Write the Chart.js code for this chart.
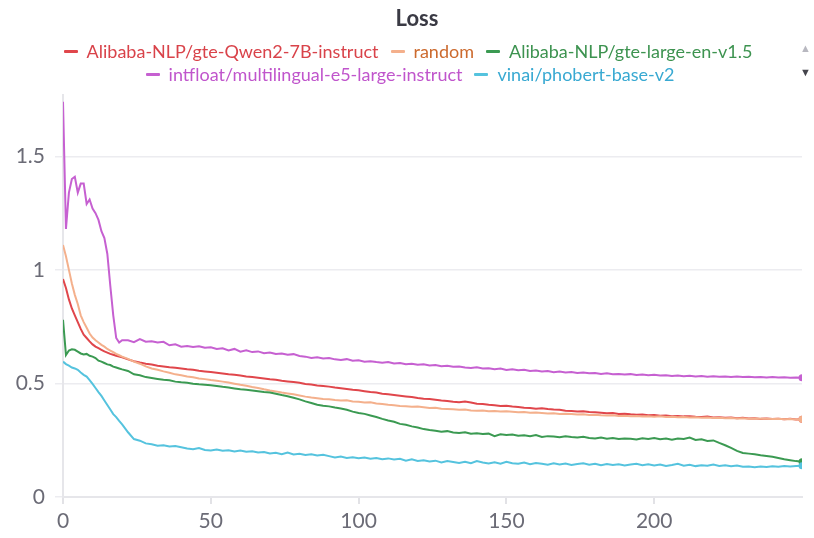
<!DOCTYPE html>
<html>
<head>
<meta charset="utf-8">
<script src="https://cdn.jsdelivr.net/npm/chart.js@4/dist/chart.umd.min.js"></script>
<style>
  html, body { margin: 0; padding: 0; background: #ffffff; }
  body { width: 814px; height: 538px; position: relative; overflow: hidden; font-family: Lato, "Noto Sans", sans-serif; }
  #chart { position: absolute; left: 0; top: 0; }
  #title { position: absolute; left: 0; width: 834px; top: 4px; text-align: center; font-size: 22px; font-weight: 700; color: #3a3a44; }
  .row { position: absolute; display: flex; justify-content: center; white-space: nowrap; font-size: 18px; }
  .item { display: flex; align-items: center; margin: 0 6px; }
  .dash { width: 14px; height: 3px; border-radius: 1px; margin-right: 9px; }
  #row1 { left: 0; width: 816px; top: 40px; }
  #row2 { left: 0; width: 820px; top: 63px; }
  .arrow { position: absolute; left: 800px; font-size: 11px; }
</style>
</head>
<body>
<canvas id="chart" width="814" height="538"></canvas>
<div id="title">Loss</div>
<div id="row1" class="row"></div>
<div id="row2" class="row"></div>
<div class="arrow" style="top:41px;color:#b8b8c0;">▲</div>
<div class="arrow" style="top:65px;color:#44444c;">▼</div>
<script>
// training steps (x values)
const steps = [0,1,2,3,4,5,6,7,8,9,10,11,12,13,14,15,16,17,18,19,20,
  22,24,26,28,30,32,34,36,38,40,42,44,46,48,50,52,54,56,58,60,62,64,66,68,70,72,74,76,78,80,
  82,84,86,88,90,92,94,96,98,100,102,104,106,108,110,112,114,116,118,120,122,124,126,128,130,
  132,134,136,138,140,142,144,146,148,150,152,154,156,158,160,162,164,166,168,170,172,174,176,178,180,
  182,184,186,188,190,192,194,196,198,200,202,204,206,208,210,212,214,216,218,220,222,224,226,228,230,
  232,234,236,238,240,242,244,246,248,250];

const seriesNames = [
  "Alibaba-NLP/gte-Qwen2-7B-instruct",
  "random",
  "Alibaba-NLP/gte-large-en-v1.5",
  "intfloat/multilingual-e5-large-instruct",
  "vinai/phobert-base-v2"
];

const qwenLoss = [0.96,0.92,0.87,0.83,0.80,0.77,0.74,0.715,0.70,0.685,0.672,0.662,0.655,0.648,0.641,0.636,0.630,0.626,0.622,0.618,0.615,
  0.606,0.598,0.592,0.587,0.583,0.578,0.575,0.571,0.569,0.566,0.562,0.560,0.556,0.553,0.550,0.547,0.544,0.540,0.538,0.535,
  0.531,0.528,0.525,0.522,0.518,0.516,0.512,0.509,0.506,0.503,0.498,0.495,0.491,0.489,0.486,0.482,0.479,0.476,0.472,0.470,
  0.466,0.462,0.460,0.455,0.452,0.449,0.446,0.443,0.440,0.436,0.433,0.431,0.428,0.425,0.423,0.419,0.417,0.420,0.416,0.411,
  0.409,0.406,0.404,0.401,0.402,0.398,0.396,0.393,0.392,0.389,0.391,0.387,0.385,0.384,0.380,0.379,0.377,0.378,0.374,0.373,
  0.371,0.369,0.370,0.366,0.367,0.364,0.362,0.363,0.360,0.361,0.358,0.359,0.356,0.357,0.355,0.356,0.353,0.352,0.354,0.350,
  0.351,0.349,0.350,0.347,0.349,0.346,0.347,0.344,0.346,0.343,0.345,0.342,0.344,0.341,0.342];

const randomLoss = [1.11,1.06,1.00,0.94,0.89,0.85,0.80,0.77,0.745,0.72,0.702,0.690,0.680,0.670,0.662,0.652,0.645,0.638,0.630,0.624,0.618,
  0.608,0.596,0.587,0.575,0.566,0.560,0.553,0.547,0.540,0.536,0.531,0.527,0.522,0.519,0.515,0.512,0.508,0.504,0.499,0.494,
  0.490,0.484,0.480,0.474,0.469,0.465,0.460,0.456,0.452,0.447,0.442,0.438,0.435,0.432,0.430,0.427,0.425,0.426,0.421,0.419,
  0.416,0.417,0.412,0.409,0.406,0.404,0.401,0.400,0.397,0.398,0.395,0.392,0.393,0.389,0.388,0.386,0.384,0.385,0.381,0.380,
  0.381,0.378,0.379,0.376,0.377,0.375,0.373,0.374,0.371,0.372,0.370,0.368,0.369,0.366,0.367,0.365,0.363,0.364,0.361,0.362,
  0.360,0.359,0.360,0.357,0.358,0.356,0.357,0.354,0.356,0.353,0.355,0.352,0.353,0.351,0.352,0.350,0.351,0.349,0.350,0.348,
  0.349,0.347,0.348,0.346,0.347,0.345,0.346,0.344,0.345,0.343,0.344,0.342,0.343,0.341,0.342];

const gteLargeLoss = [0.78,0.625,0.645,0.650,0.648,0.640,0.632,0.628,0.630,0.622,0.618,0.612,0.600,0.596,0.590,0.584,0.581,0.574,0.570,0.566,0.562,
  0.555,0.540,0.536,0.528,0.524,0.520,0.516,0.514,0.508,0.505,0.503,0.499,0.496,0.494,0.492,0.489,0.485,0.482,0.478,0.474,
  0.472,0.469,0.466,0.462,0.460,0.455,0.449,0.444,0.437,0.430,0.421,0.414,0.406,0.402,0.399,0.394,0.390,0.384,0.376,0.370,
  0.366,0.359,0.352,0.344,0.337,0.331,0.322,0.318,0.311,0.306,0.299,0.295,0.292,0.287,0.290,0.284,0.282,0.285,0.279,0.281,
  0.277,0.279,0.268,0.276,0.273,0.275,0.270,0.272,0.268,0.273,0.264,0.268,0.266,0.263,0.267,0.264,0.262,0.265,0.260,0.258,
  0.262,0.257,0.260,0.255,0.258,0.256,0.253,0.259,0.255,0.260,0.254,0.257,0.252,0.258,0.255,0.262,0.251,0.254,0.247,0.249,
  0.238,0.228,0.216,0.203,0.194,0.191,0.188,0.184,0.181,0.177,0.172,0.166,0.162,0.158,0.155];

const e5Loss = [1.74,1.18,1.34,1.40,1.41,1.34,1.38,1.38,1.29,1.31,1.27,1.25,1.22,1.17,1.14,1.07,0.93,0.80,0.70,0.68,0.69,
  0.690,0.682,0.695,0.684,0.686,0.680,0.683,0.668,0.672,0.662,0.665,0.660,0.664,0.657,0.659,0.652,0.655,0.645,0.652,0.640,
  0.646,0.638,0.641,0.633,0.636,0.630,0.632,0.626,0.629,0.621,0.618,0.612,0.615,0.610,0.612,0.606,0.603,0.607,0.600,0.602,
  0.596,0.598,0.594,0.591,0.594,0.588,0.590,0.585,0.587,0.582,0.584,0.579,0.581,0.576,0.578,0.574,0.575,0.570,0.568,0.571,
  0.566,0.567,0.563,0.566,0.559,0.562,0.558,0.560,0.555,0.557,0.553,0.555,0.549,0.552,0.548,0.550,0.546,0.548,0.545,0.546,
  0.542,0.545,0.541,0.542,0.539,0.541,0.537,0.539,0.536,0.538,0.535,0.536,0.533,0.535,0.532,0.534,0.531,0.533,0.530,0.532,
  0.529,0.531,0.528,0.530,0.528,0.529,0.527,0.528,0.526,0.528,0.526,0.527,0.525,0.526,0.525];

const phobertLoss = [0.596,0.585,0.578,0.570,0.566,0.560,0.548,0.538,0.530,0.515,0.498,0.480,0.462,0.445,0.425,0.405,0.385,0.365,0.352,0.335,0.320,
  0.285,0.255,0.248,0.236,0.232,0.226,0.228,0.222,0.224,0.219,0.214,0.210,0.216,0.207,0.205,0.209,0.204,0.206,0.200,0.205,
  0.199,0.201,0.196,0.198,0.192,0.195,0.188,0.196,0.187,0.190,0.185,0.188,0.183,0.186,0.180,0.174,0.178,0.172,0.175,0.171,
  0.174,0.168,0.172,0.166,0.170,0.165,0.168,0.160,0.166,0.159,0.162,0.156,0.160,0.152,0.158,0.154,0.150,0.155,0.149,0.158,
  0.152,0.148,0.153,0.147,0.155,0.149,0.146,0.152,0.144,0.150,0.146,0.142,0.148,0.143,0.147,0.141,0.145,0.149,0.142,0.146,
  0.140,0.145,0.141,0.144,0.139,0.143,0.146,0.140,0.144,0.139,0.143,0.137,0.141,0.146,0.138,0.142,0.136,0.140,0.138,0.143,
  0.137,0.140,0.135,0.139,0.133,0.134,0.131,0.134,0.132,0.135,0.133,0.136,0.134,0.137,0.138];

const yTicks = [0, 0.5, 1, 1.5];
const xTicks = [0, 50, 100, 150, 200];

const lineColors = ["#e0464b", "#f4b08c", "#3b9a52", "#c660d1", "#55c3de"];
const textColors = ["#d9434a", "#cc6a2e", "#3d9350", "#c055cc", "#38a9d2"];
const allLosses = [qwenLoss, randomLoss, gteLargeLoss, e5Loss, phobertLoss];

// legend rows
const rows = [[0, 1, 2], [3, 4]];
rows.forEach((idxs, r) => {
  const el = document.getElementById("row" + (r + 1));
  idxs.forEach(i => {
    const item = document.createElement("div");
    item.className = "item";
    const dash = document.createElement("span");
    dash.className = "dash";
    dash.style.background = lineColors[i];
    const label = document.createElement("span");
    label.textContent = seriesNames[i];
    label.style.color = textColors[i];
    item.appendChild(dash);
    item.appendChild(label);
    el.appendChild(item);
  });
});

const datasets = allLosses.map((vals, i) => ({
  label: seriesNames[i],
  data: vals.map((v, j) => ({ x: steps[j], y: v })),
  borderColor: lineColors[i],
  backgroundColor: lineColors[i],
  borderWidth: 2,
  tension: 0,
  order: 5 - i,
  pointRadius: ctx => (ctx.dataIndex === vals.length - 1 ? 3.5 : 0),
  pointHoverRadius: 0,
  pointBorderWidth: 0
}));

new Chart(document.getElementById("chart"), {
  type: "line",
  data: { datasets },
  options: {
    responsive: false,
    animation: false,
    events: [],
    layout: { padding: { top: 95, right: 12, left: 0, bottom: 0 } },
    plugins: { legend: { display: false }, title: { display: false }, tooltip: { enabled: false } },
    scales: {
      x: {
        type: "linear",
        min: 0,
        max: 250,
        afterBuildTicks: s => { s.ticks = xTicks.map(v => ({ value: v })); },
        afterFit: s => { s.height = 41; },
        grid: { drawOnChartArea: false, drawTicks: true, tickLength: 7, color: "#e2e2e6", lineWidth: 2 },
        border: { display: true, color: "#e6e6ea", width: 2 },
        ticks: { color: "#6b6b76", font: { family: "Lato", size: 21 }, padding: 5, maxRotation: 0,
                 callback: v => String(v) }
      },
      y: {
        type: "linear",
        min: 0,
        max: 1.77,
        afterBuildTicks: s => { s.ticks = yTicks.map(v => ({ value: v })); },
        afterFit: s => { s.width = 63; },
        grid: { color: "#ececf0", lineWidth: 1.5, tickLength: 8 },
        border: { display: true, color: "#e6e6ea", width: 2 },
        ticks: { color: "#6b6b76", font: { family: "Lato", size: 21 }, padding: 10,
                 callback: v => String(v) }
      }
    }
  }
});
</script>
</body>
</html>
